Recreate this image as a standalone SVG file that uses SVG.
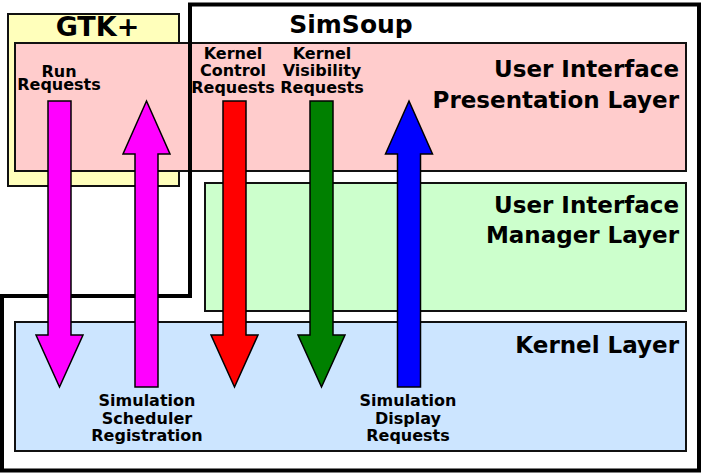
<svg xmlns="http://www.w3.org/2000/svg" width="703" height="474" viewBox="0 0 703 474">
<style>
.box{stroke:#111;stroke-width:2}
.frame{fill:none;stroke:#000;stroke-width:4;stroke-linejoin:miter}
.arrow{stroke:#000;stroke-width:1.5;stroke-linejoin:miter}
text{font-family:"DejaVu Sans","Liberation Sans",sans-serif;font-weight:bold;fill:#000}
.big{font-size:23px;text-anchor:end}
.title{font-size:25px;text-anchor:middle}
.small{font-size:16px;text-anchor:middle}
</style>
<rect width="703" height="474" fill="#fff"/>
<g id="gtk">
<rect class="box" x="8" y="14" width="171" height="172" fill="#ffffbb"/>
<text class="title" x="97.5" y="36" style="font-size:27px">GTK+</text>
</g>
<g id="presentation">
<rect class="box" x="15" y="43" width="671" height="128" fill="#ffcccc"/>
<text class="big" x="679" y="77">User Interface</text>
<text class="big" x="679" y="108">Presentation Layer</text>
</g>
<g id="simsoup">
<path class="frame" d="M190,296 V4.5 H699 V470.5 H2 V296 Z"/>
<text class="title" x="351" y="33">SimSoup</text>
</g>
<g id="manager">
<rect class="box" x="205" y="183" width="481" height="128" fill="#ccffcc"/>
<text class="big" x="679" y="213">User Interface</text>
<text class="big" x="679" y="243">Manager Layer</text>
</g>
<g id="kernel">
<rect class="box" x="15" y="322" width="671" height="129" fill="#cce5ff"/>
<text class="big" x="679" y="353">Kernel Layer</text>
</g>
<g id="connectors">
<polygon class="arrow" fill="#ff00ff" points="48,101 71,101 71,335 83,335 59.5,387 36,335 48,335"/>
<polygon class="arrow" fill="#ff00ff" points="146.5,101 170,154 158,154 158,387 135,387 135,154 123,154"/>
<polygon class="arrow" fill="#ff0000" points="223,101 246,101 246,335 258,335 234.5,387 211,335 223,335"/>
<polygon class="arrow" fill="#008000" points="310,101 333,101 333,335 345,335 321.5,387 298,335 310,335"/>
<polygon class="arrow" fill="#0000ff" points="409,101 432.5,154 420.5,154 420.5,387 397.5,387 397.5,154 385.5,154"/>
</g>
<g id="labels">
<text class="small" x="59" y="77">Run</text>
<text class="small" x="59" y="90">Requests</text>
<text class="small" x="233" y="59">Kernel</text>
<text class="small" x="233" y="76">Control</text>
<text class="small" x="233" y="93">Requests</text>
<text class="small" x="322" y="59">Kernel</text>
<text class="small" x="322" y="76">Visibility</text>
<text class="small" x="322" y="93">Requests</text>
<text class="small" x="147" y="406">Simulation</text>
<text class="small" x="147" y="424">Scheduler</text>
<text class="small" x="147" y="441">Registration</text>
<text class="small" x="408" y="406">Simulation</text>
<text class="small" x="408" y="424">Display</text>
<text class="small" x="408" y="441">Requests</text>
</g>
</svg>
